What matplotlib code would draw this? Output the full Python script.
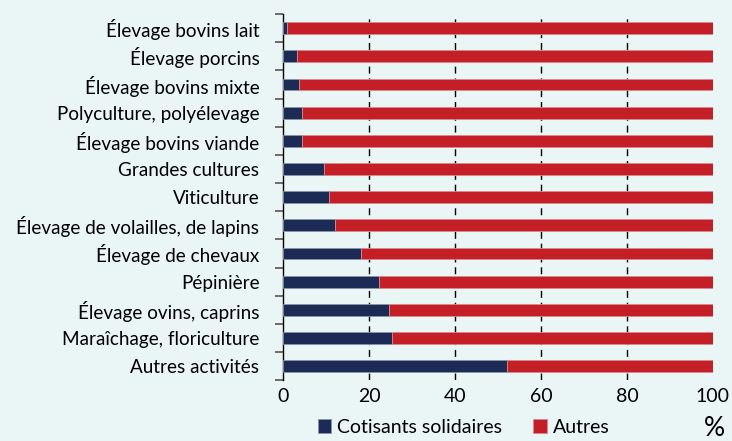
import matplotlib
matplotlib.use("Agg")
import matplotlib.pyplot as plt
import numpy as np

plt.rcParams["font.family"] = ["Lato", "DejaVu Sans"]

categories = [
    "Élevage bovins lait",
    "Élevage porcins",
    "Élevage bovins mixte",
    "Polyculture, polyélevage",
    "Élevage bovins viande",
    "Grandes cultures",
    "Viticulture",
    "Élevage de volailles, de lapins",
    "Élevage de chevaux",
    "Pépinière",
    "Élevage ovins, caprins",
    "Maraîchage, floriculture",
    "Autres activités",
]
solidaires = [1.0, 3.3, 3.8, 4.4, 4.4, 9.6, 10.8, 12.2, 18.2, 22.4, 24.6, 25.4, 52.1]
autres = [100 - v for v in solidaires]
x_ticks = [0, 20, 40, 60, 80, 100]

BG = "#eaf5f5"
NAVY = "#1c2b55"
RED = "#c41f26"

fig = plt.figure(figsize=(7.32, 4.41), dpi=100, facecolor=BG)
ax = fig.add_axes([0.3866, 0.138, 0.5874, 0.830], facecolor=BG)

y = np.arange(len(categories))
ax.barh(y, solidaires, height=0.42, color=NAVY, edgecolor="#8a94a8",
        linewidth=0.6, label="Cotisants solidaires", zorder=3)
ax.barh(y, autres, left=solidaires, height=0.42, color=RED,
        edgecolor="#d88a8d", linewidth=0.6, label="Autres", zorder=3)

ax.set_ylim(len(categories) - 0.5, -0.5)
ax.set_xlim(0, 100)

ax.set_yticks(y)
ax.set_yticklabels(categories, fontsize=13.6)
ax.set_yticks(np.arange(-0.5, len(categories)), minor=True)
ax.tick_params(axis="y", which="major", length=0, pad=17)
ax.tick_params(axis="y", which="minor", length=6, width=1.2, color="#555555")

ax.set_xticks(x_ticks)
ax.set_xticklabels([str(t) for t in x_ticks], fontsize=14)
ax.tick_params(axis="x", length=0, pad=6)

for t in x_ticks[1:-1]:
    ax.axvline(t, color="black", linestyle=(0, (5, 3.5)), linewidth=1.0, zorder=1)

for s in ["top", "right", "bottom"]:
    ax.spines[s].set_visible(False)
ax.spines["left"].set_color("black")
ax.spines["left"].set_linewidth(1.0)

ax.legend(loc="upper center", bbox_to_anchor=(0.42, -0.105), ncol=2, frameon=False,
          fontsize=14, handlelength=0.7, handleheight=0.7, handletextpad=0.3,
          columnspacing=1.6, borderaxespad=0, borderpad=0)
fig.text(0.99, 0.0, "%", fontsize=19, ha="right", va="bottom")

fig.savefig("out.png", dpi=100, facecolor=BG)
